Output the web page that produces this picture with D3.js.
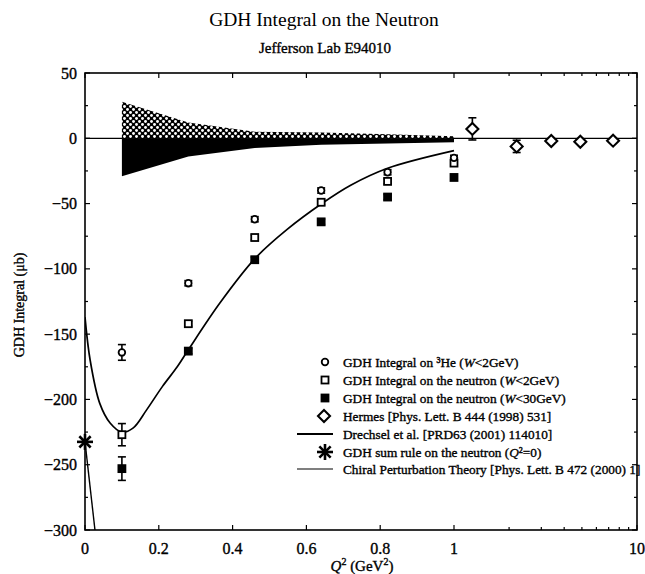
<!DOCTYPE html>
<html>
<head>
<meta charset="utf-8">
<script src="https://cdn.jsdelivr.net/npm/d3@7"></script>
<style>
  body { margin: 0; background: #fff; }
  text { font-family: "Liberation Serif", "Times New Roman", serif; fill: #000; }
  .heavy { stroke: #000; stroke-width: 0.35; }
</style>
</head>
<body>
<svg id="chart" width="645" height="574"></svg>
<script>
// E94010 points, Q^2 in GeV^2, integral in microbarn
const q2 = [0.1, 0.28, 0.46, 0.64, 0.82, 1.0];
const he3 = [-164, -111, -62, -40, -26, -15];
const he3Err = [6, 2, 2, 2, 2, 2];
const neutron2 = [-227, -142, -76, -49, -33, -19];
const neutron2Err = [8.5, 2, 2, 2, 2, 2];
const neutron30 = [-253, -163, -93, -64, -45, -30];
const neutron30Err = [9, 2, 2, 2, 2, 2];

// systematic error band
const sysUp = [28, 12, 5, 4.5, 3, 1.5];
const sysDown = [-29, -14, -7.5, -5, -4, -3];

// Hermes
const hermesQ2 = [1.26, 2.2, 3.4, 4.9, 7.4];
const hermes = [7.2, -6.2, -2, -2.6, -1.8];
const hermesErr = [8.5, 4.7, 1.5, 1.5, 1.5];

// Drechsel et al. (MAID)
const maidQ2 = [0, 0.014, 0.04, 0.068, 0.1, 0.13, 0.167, 0.21, 0.25, 0.28, 0.366, 0.461, 0.547, 0.642, 0.72, 0.82, 1.0];
const maid = [-137, -170, -203, -218, -225, -222, -208, -190, -175, -162, -126, -92, -70, -50, -36, -23, -9.5];

// chiral perturbation theory
const chptQ2 = [0, 0.027];
const chpt = [-232.5, -300];

// GDH sum rule at Q^2 = 0
const gdhSum = -232.5;

const yTicks = d3.range(-300, 51, 25);
const xTicks = [0, 0.2, 0.4, 0.6, 0.8, 1, 10];
const xMinor = [2, 3, 4, 5, 6, 7, 8, 9];

const legendLabels = [
  "GDH Integral on ³He (W<2GeV)",
  "GDH Integral on the neutron (W<2GeV)",
  "GDH Integral on the neutron (W<30GeV)",
  "Hermes [Phys. Lett. B 444 (1998) 531]",
  "Drechsel et al. [PRD63 (2001) 114010]",
  "GDH sum rule on the neutron (Q²=0)",
  "Chiral Perturbation Theory [Phys. Lett. B 472 (2000) 1]"
];

const svg = d3.select("#chart");
const pLeft = 85, pRight = 637, pTop = 73, pBottom = 530;

// linear up to 1, log from 1 to 10
const xLin = d3.scaleLinear().domain([0, 1]).range([pLeft, 454]);
const xLog = d3.scaleLog().domain([1, 10]).range([454, pRight]);
const x = q => (q <= 1 ? xLin(q) : xLog(q));
const y = d3.scaleLinear().domain([-300, 50]).range([pBottom, pTop]);

// dotted pattern for the positive systematic band
const defs = svg.append("defs");
const pat = defs.append("pattern")
  .attr("id", "hatch")
  .attr("patternUnits", "userSpaceOnUse")
  .attr("width", 6).attr("height", 6);
pat.append("rect").attr("width", 6).attr("height", 6).attr("fill", "#000");
pat.append("circle").attr("cx", 1.5).attr("cy", 1.5).attr("r", 1.45).attr("fill", "#fff");
pat.append("circle").attr("cx", 4.5).attr("cy", 4.5).attr("r", 1.45).attr("fill", "#fff");

defs.append("clipPath").attr("id", "clip")
  .append("rect").attr("x", pLeft).attr("y", pTop)
  .attr("width", pRight - pLeft).attr("height", pBottom - pTop);

// titles
svg.append("text").attr("x", 324).attr("y", 26).attr("text-anchor", "middle")
  .attr("font-size", 19.5).text("GDH Integral on the Neutron");
svg.append("text").attr("x", 325).attr("y", 53).attr("text-anchor", "middle")
  .attr("class", "heavy").attr("font-size", 15).text("Jefferson Lab E94010");

const plot = svg.append("g").attr("clip-path", "url(#clip)");

// zero line
plot.append("line")
  .attr("x1", pLeft).attr("x2", pRight)
  .attr("y1", y(0)).attr("y2", y(0))
  .attr("stroke", "#000").attr("stroke-width", 1.2);

// systematic bands
const band = q2.map((q, i) => ({ q, up: sysUp[i], down: sysDown[i] }));
plot.append("path")
  .datum(band)
  .attr("fill", "url(#hatch)")
  .attr("d", d3.area().x(d => x(d.q)).y0(y(0)).y1(d => y(d.up)));
plot.append("path")
  .datum(band)
  .attr("fill", "#000")
  .attr("d", d3.area().x(d => x(d.q)).y0(y(0)).y1(d => y(d.down)));

// theory curves
plot.append("path")
  .datum(maidQ2.map((q, i) => [q, maid[i]]))
  .attr("fill", "none").attr("stroke", "#000").attr("stroke-width", 1.7)
  .attr("d", d3.line().x(d => x(d[0])).y(d => y(d[1])).curve(d3.curveCatmullRom));
plot.append("path")
  .datum(chptQ2.map((q, i) => [q, chpt[i]]))
  .attr("fill", "none").attr("stroke", "#000").attr("stroke-width", 1.4)
  .attr("d", d3.line().x(d => x(d[0])).y(d => y(d[1])));

// error bars
function errorBars(qs, vals, errs) {
  const g = svg.append("g").attr("stroke", "#000").attr("stroke-width", 1.6);
  qs.forEach((q, i) => {
    const cx = x(q), y1 = y(vals[i] + errs[i]), y2 = y(vals[i] - errs[i]);
    g.append("line").attr("x1", cx).attr("x2", cx).attr("y1", y1).attr("y2", y2);
    g.append("line").attr("x1", cx - 4).attr("x2", cx + 4).attr("y1", y1).attr("y2", y1);
    g.append("line").attr("x1", cx - 4).attr("x2", cx + 4).attr("y1", y2).attr("y2", y2);
  });
}
errorBars(q2, he3, he3Err);
errorBars(q2, neutron2, neutron2Err);
errorBars(q2, neutron30, neutron30Err);
errorBars(hermesQ2, hermes, hermesErr);

// marker shapes
function drawCircle(g, cx, cy) {
  g.append("circle").attr("cx", cx).attr("cy", cy).attr("r", 3.3)
    .attr("fill", "#fff").attr("stroke", "#000").attr("stroke-width", 1.8);
}
function drawSquare(g, cx, cy, filled) {
  g.append("rect").attr("x", cx - 3.5).attr("y", cy - 3.5).attr("width", 7).attr("height", 7)
    .attr("fill", filled ? "#000" : "#fff").attr("stroke", "#000").attr("stroke-width", 1.8);
}
function drawDiamond(g, cx, cy) {
  g.append("path")
    .attr("d", `M${cx},${cy - 6}L${cx + 6},${cy}L${cx},${cy + 6}L${cx - 6},${cy}Z`)
    .attr("fill", "#fff").attr("stroke", "#000").attr("stroke-width", 2.1);
}
function drawStar(g, cx, cy, r) {
  [0, 45, 90, 135].forEach(a => {
    const dx = r * Math.cos(a * Math.PI / 180), dy = r * Math.sin(a * Math.PI / 180);
    g.append("line").attr("x1", cx - dx).attr("x2", cx + dx)
      .attr("y1", cy - dy).attr("y2", cy + dy)
      .attr("stroke", "#000").attr("stroke-width", 2.6);
  });
}

const marks = svg.append("g");
q2.forEach((q, i) => drawSquare(marks, x(q), y(neutron30[i]), true));
q2.forEach((q, i) => drawSquare(marks, x(q), y(neutron2[i]), false));
q2.forEach((q, i) => drawCircle(marks, x(q), y(he3[i])));
hermesQ2.forEach((q, i) => drawDiamond(marks, x(q), y(hermes[i])));
drawStar(marks, x(0), y(gdhSum), 8);

// frame
svg.append("rect").attr("x", pLeft).attr("y", pTop)
  .attr("width", pRight - pLeft).attr("height", pBottom - pTop)
  .attr("fill", "none").attr("stroke", "#000").attr("stroke-width", 1.6);

// ticks on all four sides, pointing inwards
const ax = svg.append("g").attr("stroke", "#000").attr("stroke-width", 1.2);
yTicks.forEach(v => {
  const len = v % 50 === 0 ? 5 : 3;
  ax.append("line").attr("x1", pLeft).attr("x2", pLeft + len).attr("y1", y(v)).attr("y2", y(v));
  ax.append("line").attr("x1", pRight).attr("x2", pRight - len).attr("y1", y(v)).attr("y2", y(v));
});
xTicks.forEach(v => {
  ax.append("line").attr("x1", x(v)).attr("x2", x(v)).attr("y1", pBottom).attr("y2", pBottom - 5);
  ax.append("line").attr("x1", x(v)).attr("x2", x(v)).attr("y1", pTop).attr("y2", pTop + 5);
});
xMinor.forEach(v => {
  ax.append("line").attr("x1", x(v)).attr("x2", x(v)).attr("y1", pBottom).attr("y2", pBottom - 3);
  ax.append("line").attr("x1", x(v)).attr("x2", x(v)).attr("y1", pTop).attr("y2", pTop + 3);
});

// tick labels
const fmt = d3.format("");
yTicks.filter(v => v % 50 === 0).forEach(v => {
  svg.append("text").attr("x", 77).attr("y", y(v) + 5.5).attr("class", "heavy")
    .attr("text-anchor", "end").attr("font-size", 16).text(fmt(v));
});
xTicks.forEach(v => {
  svg.append("text").attr("x", x(v)).attr("y", 554).attr("class", "heavy")
    .attr("text-anchor", "middle").attr("font-size", 16).text(fmt(v));
});

// axis titles
const xt = svg.append("text").attr("x", 362).attr("y", 571).attr("class", "heavy")
  .attr("text-anchor", "middle").attr("font-size", 15);
xt.append("tspan").attr("font-style", "italic").text("Q");
xt.append("tspan").attr("dy", -6).attr("font-size", 10).text("2");
xt.append("tspan").attr("dy", 6).text(" (GeV");
xt.append("tspan").attr("dy", -6).attr("font-size", 10).text("2");
xt.append("tspan").attr("dy", 6).text(")");

svg.append("text")
  .attr("transform", "translate(24,305) rotate(-90)").attr("class", "heavy")
  .attr("text-anchor", "middle").attr("font-size", 14)
  .text("GDH Integral (μb)");

// legend
const legendY = [362, 380, 398, 416, 434, 452, 469];
const lg = svg.append("g");
drawCircle(lg, 325, legendY[0]);
drawSquare(lg, 325, legendY[1], false);
drawSquare(lg, 325, legendY[2], true);
drawDiamond(lg, 324, legendY[3]);
lg.append("line").attr("x1", 297).attr("x2", 333).attr("y1", legendY[4]).attr("y2", legendY[4])
  .attr("stroke", "#000").attr("stroke-width", 2.2);
drawStar(lg, 325, legendY[5], 8);
lg.append("line").attr("x1", 297).attr("x2", 333).attr("y1", legendY[6]).attr("y2", legendY[6])
  .attr("stroke", "#000").attr("stroke-width", 1.2);

legendLabels.forEach((label, i) => {
  const t = lg.append("text").attr("x", 343).attr("y", legendY[i] + 4.5)
    .attr("class", "heavy").attr("font-size", 13.3);
  // italic W and Q
  const parts = label.split(/(W|Q)/).filter(s => s !== "");
  parts.forEach(p => {
    if (p === "W" || p === "Q") t.append("tspan").attr("font-style", "italic").text(p);
    else t.append("tspan").text(p);
  });
});
</script>
</body>
</html>
